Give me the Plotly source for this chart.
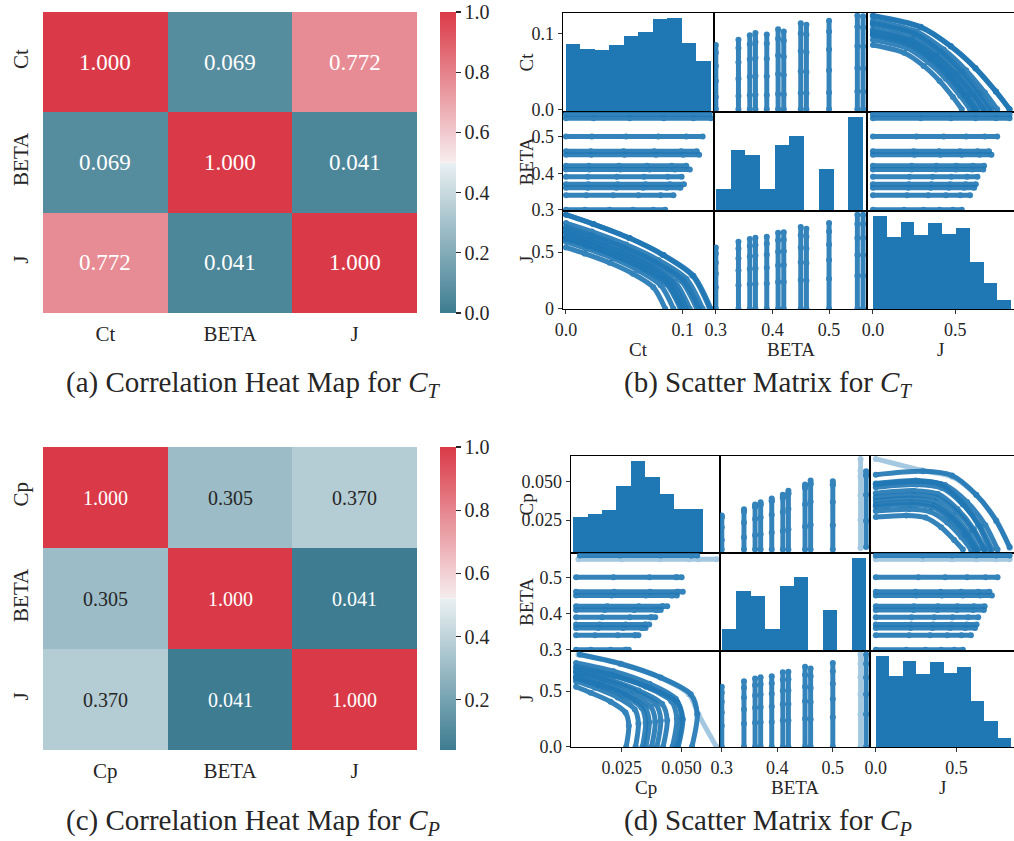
import plotly.graph_objects as go

W, H = 1014, 841
FONT = 'Liberation Serif'
BLUE = '#1f77b4'
INK = '#262626'

# ---------------- data ----------------
heat_labels_t = ['Ct', 'BETA', 'J']
heat_labels_p = ['Cp', 'BETA', 'J']
corr_ct = [[1.000, 0.069, 0.772],
           [0.069, 1.000, 0.041],
           [0.772, 0.041, 1.000]]
corr_cp = [[1.000, 0.305, 0.370],
           [0.305, 1.000, 0.041],
           [0.370, 0.041, 1.000]]

beta_levels = [0.30, 0.34, 0.36, 0.37, 0.39, 0.41, 0.42, 0.45, 0.46, 0.50, 0.55, 0.56]
j_curves = [
    [0, 0.189, 0.308, 0.405, 0.486, 0.540],
    [0, 0.207, 0.336, 0.443, 0.531, 0.590],
    [0, 0.215, 0.351, 0.461, 0.554, 0.615],
    [0, 0.219, 0.356, 0.469, 0.563, 0.625],
    [0, 0.222, 0.362, 0.476, 0.572, 0.635],
    [0, 0.235, 0.382, 0.503, 0.603, 0.670],
    [0, 0.236, 0.385, 0.506, 0.608, 0.675],
    [0, 0.252, 0.410, 0.540, 0.648, 0.720],
    [0, 0.247, 0.402, 0.529, 0.635, 0.705],
    [0, 0.264, 0.430, 0.566, 0.680, 0.755],
    [0, 0.291, 0.473, 0.623, 0.747, 0.830],
    [0, 0.291, 0.473, 0.623, 0.747, 0.830],
]
ct_curves = [
    [0.085, 0.0748, 0.0574, 0.0374, 0.0162, 0.0],
    [0.092, 0.0810, 0.0621, 0.0405, 0.0175, 0.0],
    [0.098, 0.0862, 0.0662, 0.0431, 0.0186, 0.0],
    [0.101, 0.0889, 0.0682, 0.0444, 0.0192, 0.0],
    [0.099, 0.0871, 0.0668, 0.0436, 0.0188, 0.0],
    [0.106, 0.0933, 0.0716, 0.0466, 0.0201, 0.0],
    [0.103, 0.0906, 0.0695, 0.0453, 0.0196, 0.0],
    [0.114, 0.1003, 0.0770, 0.0502, 0.0217, 0.0],
    [0.112, 0.0986, 0.0756, 0.0493, 0.0213, 0.0],
    [0.117, 0.1030, 0.0790, 0.0515, 0.0222, 0.0],
    [0.124, 0.1091, 0.0837, 0.0546, 0.0236, 0.0],
    [0.123, 0.1082, 0.0830, 0.0541, 0.0234, 0.0],
]
cp_curves = [
    [0.0269, 0.0280, 0.0266, 0.0204, 0.0121, 0.0060],
    [0.0308, 0.0320, 0.0305, 0.0234, 0.0139, 0.0060],
    [0.0337, 0.0350, 0.0333, 0.0256, 0.0152, 0.0060],
    [0.0351, 0.0365, 0.0347, 0.0267, 0.0158, 0.0060],
    [0.0375, 0.0390, 0.0371, 0.0285, 0.0169, 0.0060],
    [0.0397, 0.0413, 0.0393, 0.0302, 0.0179, 0.0060],
    [0.0423, 0.0440, 0.0419, 0.0321, 0.0190, 0.0060],
    [0.0462, 0.0480, 0.0457, 0.0351, 0.0208, 0.0060],
    [0.0486, 0.0505, 0.0481, 0.0369, 0.0219, 0.0060],
    [0.0481, 0.0500, 0.0476, 0.0366, 0.0216, 0.0060],
    [0.0645, 0.0570, 0.0530, 0.0410, 0.0250, 0.0070],
    [0.0543, 0.0565, 0.0538, 0.0413, 0.0244, 0.0076],
]

# histogram counts (10 bins) and data ranges
ct_hist_counts = [67, 62, 61, 66, 75, 79, 92, 93, 68, 50]
ct_hist_range = (0.0, 0.124)
cp_hist_counts = [35, 38, 42, 66, 91, 75, 58, 43, 43, 1]
cp_hist_range = (0.0048, 0.0648)
beta_hist_counts = [22, 60, 55, 22, 65, 74, 0, 41, 0, 93]
beta_hist_range = (0.30, 0.56)
j_hist_counts = [93, 72, 87, 74, 86, 75, 81, 47, 26, 9]
j_hist_range = (0.0, 0.84)

# ---------------- helpers ----------------
DIV = [[0.0, '#3d7c91'], [0.497, '#e9f0f2'], [0.5, '#f2f2f2'],
       [0.503, '#f6ecee'], [1.0, '#da3a47']]


def hex2rgb(h):
    return tuple(int(h[i:i + 2], 16) for i in (1, 3, 5))


def scale_color(t):
    for (t0, c0), (t1, c1) in zip(DIV[:-1], DIV[1:]):
        if t0 <= t <= t1:
            a = (t - t0) / (t1 - t0) if t1 > t0 else 0
            r0, r1 = hex2rgb(c0), hex2rgb(c1)
            return tuple(r0[i] + (r1[i] - r0[i]) * a for i in range(3))
    return hex2rgb(DIV[-1][1])


def lum(rgb):
    def ch(v):
        v /= 255
        return v / 12.92 if v <= 0.03928 else ((v + 0.055) / 1.055) ** 2.4
    r, g, b = map(ch, rgb)
    return 0.2126 * r + 0.7152 * g + 0.0722 * b


def px_x(x):
    return x / W


def px_y(y):
    return 1 - y / H


fig = go.Figure()
lay = {}
annotations = []


def add_axes(n, xpx, ypx, xcfg, ycfg):
    xs = 'xaxis' if n == 1 else f'xaxis{n}'
    ys = 'yaxis' if n == 1 else f'yaxis{n}'
    xr = 'x' if n == 1 else f'x{n}'
    yr = 'y' if n == 1 else f'y{n}'
    lay[xs] = dict(domain=[px_x(xpx[0]), px_x(xpx[1])], anchor=yr,
                   automargin=False, **xcfg)
    lay[ys] = dict(domain=[px_y(ypx[1]), px_y(ypx[0])], anchor=xr,
                   automargin=False, **ycfg)
    return xr, yr


# ---------------- heatmaps ----------------
def heat_panel(n, corr, labels, ypx, zmin, cb_vals, ann_size):
    xr, yr = add_axes(
        n, (43, 417), ypx,
        dict(showgrid=False, zeroline=False, showline=False, ticks='outside',
             ticklen=2, tickcolor='rgba(0,0,0,0)',
             tickfont=dict(family=FONT, size=21, color=INK)),
        dict(showgrid=False, zeroline=False, showline=False, ticks='outside',
             ticklen=6, tickcolor='rgba(0,0,0,0)', tickangle=-90,
             autorange='reversed',
             tickfont=dict(family=FONT, size=21, color=INK)))
    cy = (ypx[0] + ypx[1]) / 2
    fig.add_trace(go.Heatmap(
        z=corr, x=labels, y=labels, xaxis=xr, yaxis=yr,
        colorscale=DIV, zmin=zmin, zmax=1.0, hoverinfo='skip',
        colorbar=dict(x=px_x(440), xanchor='left', xpad=0, ypad=0,
                      y=px_y(cy), yanchor='middle',
                      len=ypx[1] - ypx[0], lenmode='pixels',
                      thickness=16, thicknessmode='pixels', outlinewidth=0,
                      ticks='outside', ticklen=5, tickwidth=1.2, tickcolor=INK,
                      ticklabeloverflow='allow',
                      tickvals=cb_vals, ticktext=[f'{v:.1f}' for v in cb_vals],
                      tickfont=dict(family=FONT, size=20, color=INK))))
    for i, row in enumerate(corr):
        for j, v in enumerate(row):
            t = (v - zmin) / (1.0 - zmin)
            col = INK if lum(scale_color(t)) > 0.408 else 'white'
            annotations.append(dict(
                x=labels[j], y=labels[i], xref=xr, yref=yr, text=f'{v:.3f}',
                xanchor='center', yanchor='middle',
                showarrow=False, font=dict(family=FONT, size=ann_size, color=col)))


heat_panel(1, corr_ct, heat_labels_t, (12, 313), 0.0,
           [0.0, 0.2, 0.4, 0.6, 0.8, 1.0], 23)
heat_panel(2, corr_cp, heat_labels_p, (447, 750), 0.041,
           [0.2, 0.4, 0.6, 0.8, 1.0], 20)


# ---------------- scatter matrices ----------------
def scatter_panel(start_n, cols_px, rows_px, names, curves, ranges_x, ranges_y,
                  ticks, hists, faint=None):
    n = start_n
    for r in range(3):
        for c in range(3):
            xcfg = dict(showgrid=False, zeroline=False, showline=True, mirror=True,
                        linecolor='black', linewidth=1.3, range=ranges_x[c],
                        showticklabels=False, ticks='')
            ycfg = dict(showgrid=False, zeroline=False, showline=True, mirror=True,
                        linecolor='black', linewidth=1.3, range=ranges_y[r],
                        showticklabels=False, ticks='')
            if r == 2:
                xcfg.update(showticklabels=True, ticks='outside', ticklen=4,
                            tickcolor='#333', tickwidth=1,
                            tickvals=ticks[c][0], ticktext=ticks[c][1],
                            tickfont=dict(family=FONT, size=18, color=INK))
            if r == c:
                counts, lo, hi = hists[r]
                top = max(counts) * 1.05
                ycfg['range'] = [0, top]
            if c == 0:
                tv = ticks[r][0]
                if r == c:
                    ylo, yhi = ranges_y[r]
                    top = ycfg['range'][1]
                    tv = [(v - ylo) / (yhi - ylo) * top for v in tv]
                ycfg.update(showticklabels=True, ticks='outside', ticklen=4,
                            tickcolor='#333', tickwidth=1,
                            tickvals=tv, ticktext=ticks[r][1],
                            tickfont=dict(family=FONT, size=18, color=INK))
            xr, yr = add_axes(n, cols_px[c], rows_px[r], xcfg, ycfg)
            if r == c:
                counts, lo, hi = hists[r]
                bw = (hi - lo) / len(counts)
                centers = [lo + bw * (k + 0.5) for k in range(len(counts))]
                fig.add_trace(go.Bar(x=centers, y=counts, width=bw, xaxis=xr, yaxis=yr,
                                     marker=dict(color=BLUE, line=dict(width=0)),
                                     hoverinfo='skip'))
            else:
                for k in range(len(beta_levels)):
                    op = 0.4 if (faint is not None and k == faint) else 0.9
                    fig.add_trace(go.Scatter(
                        x=curves[c][k], y=curves[r][k], xaxis=xr, yaxis=yr,
                        mode='lines+markers', opacity=op,
                        line=dict(color=BLUE, width=5, shape='spline', smoothing=0.8),
                        marker=dict(color=BLUE, size=6), hoverinfo='skip'))
            n += 1
    # axis titles
    for c in range(3):
        cx = (cols_px[c][0] + cols_px[c][1]) / 2
        annotations.append(dict(x=px_x(cx), y=px_y(rows_px[2][1] + 40), xref='paper',
                                yref='paper', text=names[c], showarrow=False,
                                xanchor='center', yanchor='middle',
                                font=dict(family=FONT, size=19, color=INK)))
    for r in range(3):
        cy = (rows_px[r][0] + rows_px[r][1]) / 2
        annotations.append(dict(x=px_x(526), y=px_y(cy), xref='paper', yref='paper',
                                text=names[r], showarrow=False, textangle=-90,
                                xanchor='center', yanchor='middle',
                                font=dict(family=FONT, size=19, color=INK)))


beta_curves = [[b] * len(j) for b, j in zip(beta_levels, j_curves)]

beta_rng = [0.2968, 0.5670]
jx_rng = [-0.036, 0.857]
jy_rng = [-0.003, 0.862]
beta_ticks = ([0.3, 0.4, 0.5], ['0.3', '0.4', '0.5'])

scatter_panel(
    3, [(563, 714), (714, 867), (867, 1014)], [(13, 112), (112, 211), (211, 309)],
    ['Ct', 'BETA', 'J'], [ct_curves, beta_curves, j_curves],
    [[-0.0025, 0.1267], beta_rng, jx_rng],
    [[-0.0036, 0.1274], beta_rng, jy_rng],
    [([0.0, 0.1], ['0.0', '0.1']), beta_ticks, ([0.0, 0.5], ['0.0', '0.5'])],
    [(ct_hist_counts, *ct_hist_range), (beta_hist_counts, *beta_hist_range),
     (j_hist_counts, *j_hist_range)])
# J row of panel (b) labels the zero tick as "0"
lay['yaxis9']['ticktext'] = ['0', '0.5']

scatter_panel(
    12, [(571, 720), (720, 870), (870, 1014)], [(456, 553), (553, 651), (651, 747)],
    ['Cp', 'BETA', 'J'], [cp_curves, beta_curves, j_curves],
    [[0.0039, 0.0660], beta_rng, jx_rng],
    [[0.0037, 0.0664], beta_rng, jy_rng],
    [([0.025, 0.050], ['0.025', '0.050']), beta_ticks, ([0.0, 0.5], ['0.0', '0.5'])],
    [(cp_hist_counts, *cp_hist_range), (beta_hist_counts, *beta_hist_range),
     (j_hist_counts, *j_hist_range)], faint=10)

# ---------------- captions ----------------
captions = [
    ('(a) Correlation Heat Map for <i>C</i><sub><i>T</i></sub>', 253, 384),
    ('(b) Scatter Matrix for <i>C</i><sub><i>T</i></sub>', 768, 384),
    ('(c) Correlation Heat Map for <i>C</i><sub><i>P</i></sub>', 253, 822),
    ('(d) Scatter Matrix for <i>C</i><sub><i>P</i></sub>', 768, 822),
]
for txt, cx, cy in captions:
    annotations.append(dict(x=px_x(cx), y=px_y(cy), xref='paper', yref='paper',
                            text=txt, showarrow=False, xanchor='center',
                            yanchor='middle',
                            font=dict(family=FONT, size=29, color=INK)))

fig.update_layout(
    width=W, height=H, margin=dict(l=0, r=0, t=0, b=0, autoexpand=False),
    paper_bgcolor='white', plot_bgcolor='white', showlegend=False,
    hovermode=False, bargap=0, annotations=annotations,
    font=dict(family=FONT, color=INK), **lay)

fig.write_html('out.html',
               config={'displayModeBar': False, 'staticPlot': True},
               post_script="document.body.style.margin='0';"
                           "document.body.style.overflow='hidden';")
